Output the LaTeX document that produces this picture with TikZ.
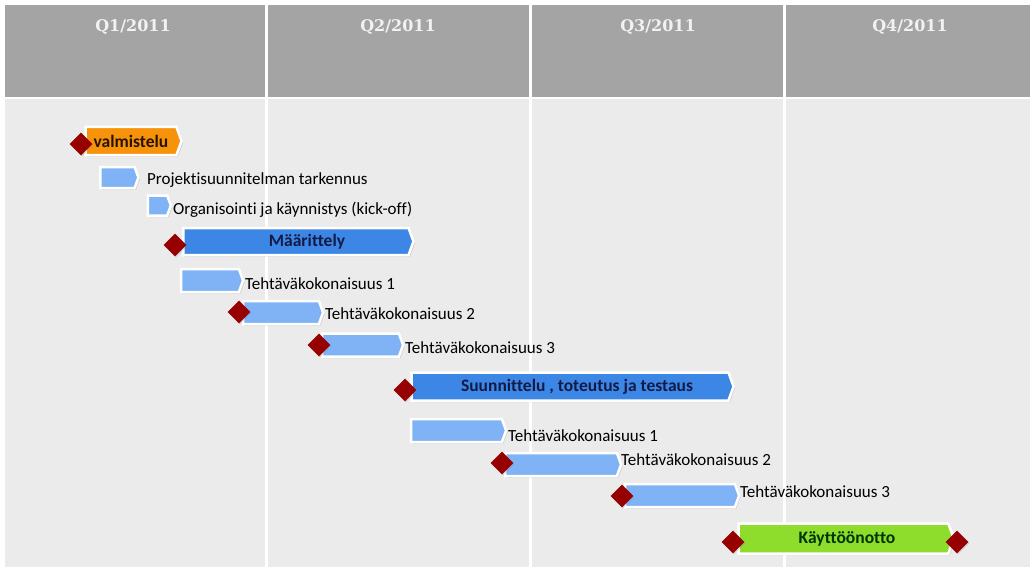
\documentclass[tikz,border=0pt]{standalone}
\usepackage{fontspec}
\setmainfont{Carlito}[Ligatures=NoCommon]
\newfontfamily\headfont{DejaVu Serif}
\usetikzlibrary{shapes.geometric,shapes.symbols,shadows}

\definecolor{headgray}{HTML}{A4A4A4}
\definecolor{bodygray}{HTML}{EBEBEB}
\definecolor{headtext}{HTML}{F2F2F2}
\definecolor{orangebar}{HTML}{F7930A}
\definecolor{bluebar}{HTML}{3C87E6}
\definecolor{lightbar}{HTML}{80B3F5}
\definecolor{greenbar}{HTML}{8EDC2C}
\definecolor{milestone}{HTML}{960000}
\definecolor{navytext}{HTML}{141A46}

\tikzset{
  col/.style={fill=bodygray, draw=none},
  headcell/.style={fill=headgray, draw=none},
  quarter/.style={font=\headfont\bfseries\fontsize{16}{18}\selectfont, text=headtext},
  task/.style={shape=signal, signal to=east, signal pointer angle=140,
    inner sep=0pt, draw=white, line width=2.5pt,
    drop shadow={shadow xshift=1.5pt, shadow yshift=-1.5pt, opacity=0.3}},
  orangetask/.style={task, fill=orangebar},
  phasetask/.style={task, fill=bluebar},
  subtask/.style={task, fill=lightbar},
  golive/.style={task, fill=greenbar},
  ms/.style={shape=diamond, fill=milestone, inner sep=0pt, minimum size=23pt,
    drop shadow={shadow xshift=1pt, shadow yshift=-1pt, opacity=0.25}},
  tasklabel/.style={anchor=west, inner sep=0pt, font=\fontsize{17}{19}\selectfont, text=black},
  barlabel/.style={inner sep=0pt, font=\bfseries\fontsize{17.5}{19}\selectfont}
}

\begin{document}
\begin{tikzpicture}[x=1pt, y=-1pt]
\useasboundingbox (0,0) rectangle (1030,567);
\fill[white] (0,0) rectangle (1030,567);

% quarter columns
\fill[col] (5,99) rectangle (265,567);
\fill[col] (268,99) rectangle (529,567);
\fill[col] (532,99) rectangle (783,567);
\fill[col] (786,99) rectangle (1030,567);
\fill[headcell] (5,5) rectangle (265,97);
\fill[headcell] (268,5) rectangle (529,97);
\fill[headcell] (532,5) rectangle (783,97);
\fill[headcell] (786,5) rectangle (1030,97);
\node[quarter] (q1) at (133,27) {Q1/2011};
\node[quarter] (q2) at (398,27) {Q2/2011};
\node[quarter] (q3) at (658,27) {Q3/2011};
\node[quarter] (q4) at (910,27) {Q4/2011};

% preparation
\node[orangetask, minimum width=96pt, minimum height=28pt] (b1) at (131,141) {};
\node[ms] (m1) at (81,144) {};
\node[barlabel, text=black!85!orange] (l1) at (131,141) {valmistelu};
\node[subtask, minimum width=38pt, minimum height=21pt] (b2) at (117.5,177.5) {};
\node[tasklabel] (l2) at (147,180) {Projektisuunnitelman tarkennus};
\node[subtask, minimum width=23pt, minimum height=20pt] (b3) at (157.5,205.5) {};
\node[tasklabel] (l3) at (173,210) {Organisointi ja käynnistys (kick-off)};

% definition
\node[phasetask, minimum width=230pt, minimum height=27pt] (b4) at (296,241.5) {};
\node[ms] (m4) at (175,245) {};
\node[barlabel, text=navytext] (l4) at (307,242) {Määrittely};
\node[subtask, minimum width=62pt, minimum height=23pt] (b5) at (210,280.5) {};
\node[tasklabel] (l5) at (245,284) {Tehtäväkokonaisuus 1};
\node[subtask, minimum width=80pt, minimum height=23pt] (b6) at (281,312.5) {};
\node[ms] (m6) at (239,312) {};
\node[tasklabel] (l6) at (325,314) {Tehtäväkokonaisuus 2};
\node[subtask, minimum width=81pt, minimum height=23pt] (b7) at (360.5,345) {};
\node[ms] (m7) at (319,345) {};
\node[tasklabel] (l7) at (405,348) {Tehtäväkokonaisuus 3};

% design, implementation and testing
\node[phasetask, minimum width=322pt, minimum height=28pt] (b8) at (570,386.5) {};
\node[ms] (m8) at (405,390) {};
\node[barlabel, text=navytext] (l8) at (577,387) {Suunnittelu , toteutus ja testaus};
\node[subtask, minimum width=95pt, minimum height=23pt] (b9) at (456.5,430.5) {};
\node[tasklabel] (l9) at (508,436) {Tehtäväkokonaisuus 1};
\node[subtask, minimum width=116pt, minimum height=23pt] (b10) at (561,464.5) {};
\node[ms] (m10) at (502,463) {};
\node[tasklabel] (l10) at (621,460) {Tehtäväkokonaisuus 2};
\node[subtask, minimum width=114pt, minimum height=23pt] (b11) at (680,495.5) {};
\node[ms] (m11) at (622,496) {};
\node[tasklabel] (l11) at (740,492) {Tehtäväkokonaisuus 3};

% deployment
\node[golive, minimum width=215pt, minimum height=30pt] (b12) at (843.5,538.5) {};
\node[ms] (m12a) at (733,542) {};
\node[ms] (m12b) at (957,542) {};
\node[barlabel, text=black!80!green] (l12) at (847,539) {Käyttöönotto};
\end{tikzpicture}
\end{document}
